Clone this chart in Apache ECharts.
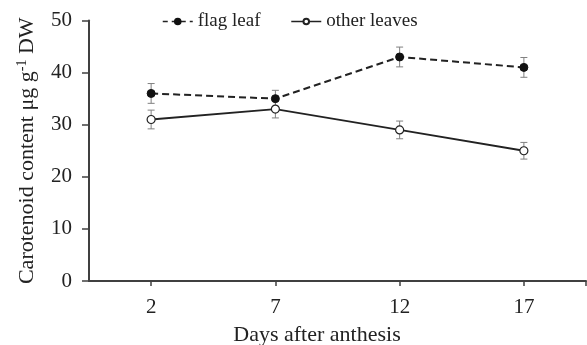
<!DOCTYPE html>
<html><head><meta charset="utf-8">
<script src="https://cdn.jsdelivr.net/npm/echarts@6/dist/echarts.min.js"></script>
<style>html,body{margin:0;padding:0;background:#fff}#c{width:587px;height:345px}</style>
</head><body><div id="c"></div>
<script>
const days = [2, 7, 12, 17];
const flagLeaf = [36, 35, 43, 41];
const flagErr = [1.9, 1.6, 1.9, 1.9];
const otherLeaves = [31, 33, 29, 25];
const otherErr = [1.8, 1.7, 1.7, 1.6];
const yTicks = [0, 10, 20, 30, 40, 50];

const FONT = '"Liberation Serif", "Times New Roman", serif';
const chart = echarts.init(document.getElementById('c'), null, {renderer: 'canvas'});

function errData(vals, errs) {
  return days.map((d, i) => [d, vals[i] - errs[i], vals[i] + errs[i]]);
}
function errRender(params, api) {
  const x = api.value(0);
  const lo = api.coord([x, api.value(1)]);
  const hi = api.coord([x, api.value(2)]);
  const w = 3.5;
  const st = {stroke: '#808080', lineWidth: 1, fill: null};
  return {type: 'group', children: [
    {type: 'line', shape: {x1: lo[0], y1: lo[1], x2: hi[0], y2: hi[1]}, style: st},
    {type: 'line', shape: {x1: lo[0] - w, y1: lo[1], x2: lo[0] + w, y2: lo[1]}, style: st},
    {type: 'line', shape: {x1: hi[0] - w, y1: hi[1], x2: hi[0] + w, y2: hi[1]}, style: st}
  ]};
}

chart.setOption({
  animation: false,
  backgroundColor: '#fff',
  textStyle: {fontFamily: FONT},
  grid: {left: 89, right: 1, top: 20.5, bottom: 64, containLabel: false},
  legend: {
    left: 157, top: 7, itemWidth: 30, itemHeight: 7, itemGap: 30,
    textStyle: {fontFamily: FONT, fontSize: 19, color: '#222'},
    data: [
      {name: 'flag leaf', lineStyle: {type: [5, 4], width: 1.5}},
      {name: 'other leaves', lineStyle: {type: 'solid', width: 1.5}}
    ]
  },
  xAxis: {
    type: 'value', min: -0.5, max: 19.5,
    axisLine: {onZero: false, lineStyle: {color: '#404040', width: 2}},
    axisTick: {show: true, length: 5, lineStyle: {color: '#404040', width: 1.5}, customValues: [2, 7, 12, 17, 19.5]},
    axisLabel: {customValues: days, fontFamily: FONT, fontSize: 21, color: '#222', margin: 16},
    splitLine: {show: false}
  },
  yAxis: {
    type: 'value', min: 0, max: 50, interval: 10,
    axisLine: {show: true, onZero: false, lineStyle: {color: '#404040', width: 2}},
    axisTick: {show: true, inside: false, length: 7, lineStyle: {color: '#404040', width: 1.5}},
    axisLabel: {fontFamily: FONT, fontSize: 21, color: '#222', margin: 17,
      customValues: yTicks},
    splitLine: {show: false},
    name: '{a|Carotenoid content μg g}{s|-1}{a| DW}',
    nameLocation: 'middle', nameGap: 50,
    nameTextStyle: {
      fontFamily: FONT, color: '#222',
      rich: {
        a: {fontFamily: FONT, fontSize: 22, lineHeight: 24, color: '#222'},
        s: {fontFamily: FONT, fontSize: 14, lineHeight: 14, verticalAlign: 'top', color: '#222'}
      }
    }
  },
  graphic: [{
    type: 'text',
    style: {text: 'Days after anthesis', x: 317, y: 335, align: 'center', verticalAlign: 'middle',
      font: '22px ' + FONT, fill: '#222'}
  }],
  series: [
    {type: 'custom', name: 'errFlag', renderItem: errRender, data: errData(flagLeaf, flagErr), z: 1,
      encode: {x: 0, y: [1, 2]}, silent: true},
    {type: 'custom', name: 'errOther', renderItem: errRender, data: errData(otherLeaves, otherErr), z: 1,
      encode: {x: 0, y: [1, 2]}, silent: true},
    {type: 'line', name: 'flag leaf', data: days.map((d, i) => [d, flagLeaf[i]]), z: 3,
      symbol: 'circle', symbolSize: 8,
      lineStyle: {color: '#222', width: 2, type: [7, 4]},
      itemStyle: {color: '#111', borderColor: '#111', borderWidth: 1}},
    {type: 'line', name: 'other leaves', data: days.map((d, i) => [d, otherLeaves[i]]), z: 3,
      symbol: 'circle', symbolSize: 8,
      lineStyle: {color: '#222', width: 1.8, type: 'solid'},
      itemStyle: {color: '#fff', borderColor: '#222', borderWidth: 1.2}}
  ]
});
</script></body></html>
